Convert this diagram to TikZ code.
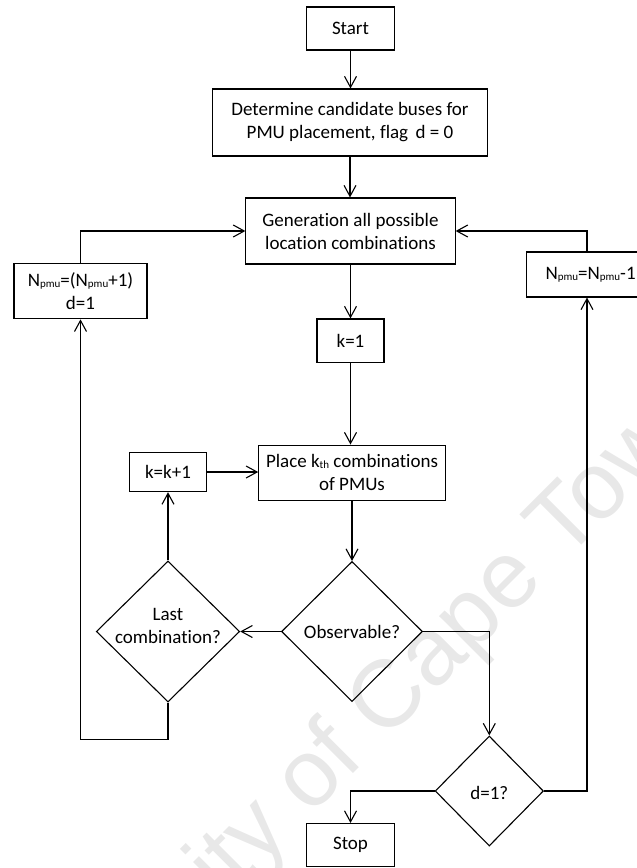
\documentclass[tikz,border=0pt]{standalone}
\usepackage{fontspec}
\setmainfont{Carlito}[Ligatures=NoCommon]
\newfontfamily\wmfont{Liberation Sans}
\usetikzlibrary{arrows.meta,shapes.geometric}

% small lowered index text (N_pmu, k_th)
\newcommand{\sbx}[1]{\raisebox{-1pt}{\fontsize{11}{11}\selectfont #1}}

\begin{document}
\begin{tikzpicture}[x=1pt,y=-1pt,
  every node/.style={font=\fontsize{19}{23}\selectfont},
  box/.style={draw, line width=1.1pt, rectangle, inner sep=0pt, align=center},
  decision/.style={draw, line width=1.1pt, diamond, inner sep=0pt},
  arr/.style={line width=1.1pt, -{Straight Barb[length=11pt,width=12pt]}}]

\path[use as bounding box] (0,0) rectangle (637,868);

% background watermark
\node[font=\wmfont\fontsize{95}{95}\selectfont, text=black!9, rotate=45, anchor=base]
  (wm) at (359,768) {University of Cape Town};

% process boxes
\node[box, minimum width=87.4pt, minimum height=43pt] (start) at (350.5,28.5) {Start};
\node[box, minimum width=274.6pt, minimum height=67pt] (det) at (350,122.5)
  {Determine candidate buses for\\PMU placement, flag\, d = 0};
\node[box, minimum width=209.2pt, minimum height=66pt] (gen) at (350.5,231)
  {Generation all possible\\location combinations};
\node[box, minimum width=133pt, minimum height=55pt] (inc) at (80.5,291.3)
  {N\sbx{pmu}=(N\sbx{pmu}+1)\\d=1};
\node[box, anchor=west, inner xsep=19pt, minimum height=45pt] (dec) at (526,274.5)
  {N\sbx{pmu}=N\sbx{pmu}-1};
\node[box, minimum width=67pt, minimum height=43.7pt] (k1) at (350.5,340.8) {k=1};
\node[box, minimum width=186.5pt, minimum height=55.3pt] (place) at (352,472.7)
  {Place k\sbx{th} combinations\\of PMUs};
\node[box, minimum width=77pt, minimum height=39.3pt] (kinc) at (168,472) {k=k+1};
\node[box, minimum width=87.6pt, minimum height=43pt] (stop) at (350.5,845) {Stop};

% decisions
\node[decision, minimum width=141pt, minimum height=140pt] (obs) at (352,631.5) {};
\node (obstext) at (352,632) {Observable?};
\node[decision, minimum width=143.4pt, minimum height=141pt] (last) at (168,631.5) {};
\node[align=center] (lasttext) at (168,626) {Last\\combination?};
\node[decision, minimum width=108.3pt, minimum height=110pt] (d1) at (489.3,791) {};
\node (d1text) at (489.3,793) {d=1?};

% flow
\draw[arr] (start.south) -- (start.south |- det.north);
\draw[arr] (det.south) -- (det.south |- gen.north);
\draw[arr] (gen.south) -- (gen.south |- k1.north);
\draw[arr] (k1.south) -- (k1.south |- place.north);
\draw[arr] (place.south) -- (obs.north);
\draw[arr] (kinc.east) -- (kinc.east -| place.west);
\draw[arr] (obs.west) -- (last.east);
\draw[arr] (last.north) -- (last.north |- kinc.south);
\draw[arr] (last.south) -- ++(0,36.5) -| (inc.south);
\draw[arr] (inc.north) |- (gen.west);
\draw[arr] ([xshift=61pt]dec.north west) |- (gen.east);
\draw[arr] (obs.east) -| (d1.north);
\draw[arr] (d1.west) -| (stop.north);
\draw[arr] (d1.east) -| ([xshift=61pt]dec.south west);

\end{tikzpicture}
\end{document}
